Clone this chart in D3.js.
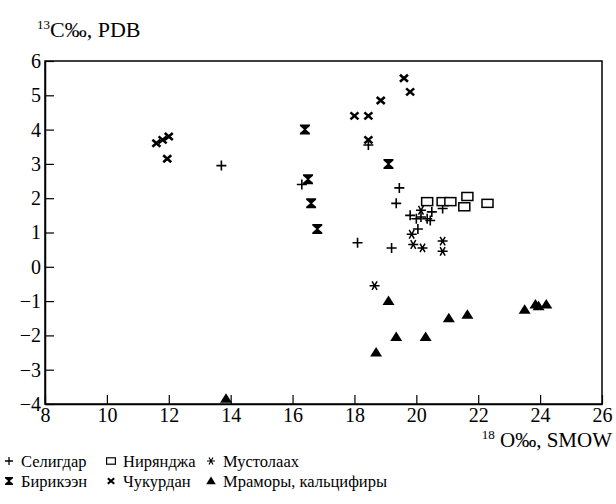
<!DOCTYPE html>
<html>
<head>
<meta charset="utf-8">
<script src="https://cdn.jsdelivr.net/npm/d3@7"></script>
<style>
  body { margin: 0; background: #fff; }
  svg text { font-family: "Liberation Serif", "Times New Roman", "Liberation Sans", Arial, sans-serif; fill: #000; }
</style>
</head>
<body>
<script>
var width = 616;
var height = 504;

// tick values
var xTicks = [8, 10, 12, 14, 16, 18, 20, 22, 24, 26];
var yTicks = [-4, -3, -2, -1, 0, 1, 2, 3, 4, 5, 6];

// series (d18O SMOW, d13C PDB)
var seligdarX = [13.7, 16.3, 18.45, 19.45, 19.35, 18.1, 19.2, 20.85, 19.8, 20.0, 20.15, 20.35, 20.5, 20.45, 20.05];
var seligdarY = [2.95, 2.4, 3.55, 2.3, 1.85, 0.7, 0.55, 1.7, 1.5, 1.4, 1.45, 1.4, 1.6, 1.35, 1.1];

var birikeenX = [16.4, 16.5, 16.6, 16.8, 19.1];
var birikeenY = [4.0, 2.55, 1.85, 1.1, 3.0];

var chukurdanX = [11.6, 11.8, 12.0, 11.95, 18.0, 18.45, 18.85, 19.6, 19.8, 18.45];
var chukurdanY = [3.6, 3.7, 3.8, 3.15, 4.4, 4.4, 4.85, 5.5, 5.1, 3.7];

var niryandzhaX = [20.35, 20.85, 21.1, 21.65, 21.55, 22.3];
var niryandzhaY = [1.9, 1.9, 1.9, 2.05, 1.75, 1.85];

var mustolaakhX = [20.15, 19.85, 19.9, 20.2, 20.85, 20.85, 18.65];
var mustolaakhY = [1.65, 0.95, 0.65, 0.55, 0.75, 0.45, -0.55];

var marblesX = [19.1, 19.35, 18.7, 20.3, 21.05, 21.65, 23.5, 23.85, 23.95, 24.2, 13.85];
var marblesY = [-1.0, -2.05, -2.5, -2.05, -1.5, -1.4, -1.25, -1.1, -1.15, -1.1, -3.85];

var svg = d3.select("body").append("svg")
    .attr("width", width)
    .attr("height", height);

var x = d3.scaleLinear().domain([8, 26]).range([45, 602]);
var y = d3.scaleLinear().domain([-4, 6]).range([404, 61]);

// marker shapes
function plus(g) {
    g.append("path").attr("d", "M-5,0H5M0,-5V5")
        .attr("stroke", "#000").attr("stroke-width", 1.6).attr("fill", "none");
}
function cross(g) {
    g.append("path").attr("d", "M-4,-3.5L4,3.5M-4,3.5L4,-3.5")
        .attr("stroke", "#000").attr("stroke-width", 2.6).attr("fill", "none");
}
function hourglass(g) {
    g.append("path").attr("d", "M-5,-5H5V-3.5L1,0L5,3.5V5H-5V3.5L-1,0L-5,-3.5Z")
        .attr("fill", "#000");
}
function square(g) {
    g.append("rect").attr("x", -5.5).attr("y", -4).attr("width", 11).attr("height", 8)
        .attr("stroke", "#000").attr("stroke-width", 1.5).attr("fill", "#fff");
}
function star(g) {
    g.append("path").attr("d", "M-5,0H5M-2.5,-4.3L2.5,4.3M-2.5,4.3L2.5,-4.3")
        .attr("stroke", "#000").attr("stroke-width", 1.5).attr("fill", "none");
}
function triangle(g) {
    g.append("path").attr("d", "M0,-5.5L6,4L-6,4Z").attr("fill", "#000");
}

function drawSeries(xs, ys, shape) {
    var pts = xs.map(function (v, i) { return [v, ys[i]]; });
    svg.append("g").selectAll("g")
        .data(pts)
        .enter().append("g")
        .attr("transform", function (d) { return "translate(" + x(d[0]) + "," + y(d[1]) + ")"; })
        .each(function () { shape(d3.select(this)); });
}

// frame
svg.append("rect")
    .attr("x", x(8)).attr("y", y(6))
    .attr("width", x(26) - x(8)).attr("height", y(-4) - y(6))
    .attr("fill", "none").attr("stroke", "#000").attr("stroke-width", 1.5);

// axes with inward ticks
var xAxis = svg.append("g")
    .attr("transform", "translate(0," + y(-4) + ")")
    .call(d3.axisBottom(x).tickValues(xTicks).tickSizeInner(-9).tickSizeOuter(0).tickPadding(14)
        .tickFormat(function (d) { return d; }));
var yAxis = svg.append("g")
    .attr("transform", "translate(" + x(8) + ",0)")
    .call(d3.axisLeft(y).tickValues(yTicks).tickSizeInner(-9).tickSizeOuter(0).tickPadding(14)
        .tickFormat(function (d) { return d < 0 ? "\u2212" + Math.abs(d) : d; }));

[xAxis, yAxis].forEach(function (a) {
    a.attr("font-family", null);
    a.select(".domain").attr("stroke", "#000").attr("stroke-width", 1.5);
    a.selectAll(".tick line").attr("stroke", "#000").attr("stroke-width", 1.2);
    a.selectAll(".tick text").style("font-size", "20px");
});
xAxis.selectAll(".tick text").attr("dy", "0.71em").attr("y", 4);
yAxis.selectAll(".tick text").attr("x", -4);

// titles
var t1 = svg.append("text").attr("x", 37).attr("y", 37).style("font-size", "22px");
t1.append("tspan").text("13").style("font-size", "13px").attr("dy", "-8");
t1.append("tspan").text("C\u2030, PDB").attr("dy", "8");

var t2 = svg.append("text").attr("x", 612).attr("y", 447).attr("text-anchor", "end").style("font-size", "21px");
t2.append("tspan").text("18").style("font-size", "13px").attr("dy", "-8");
t2.append("tspan").text(" O\u2030, SMOW").attr("dy", "8");

drawSeries(seligdarX, seligdarY, plus);
drawSeries(birikeenX, birikeenY, hourglass);
drawSeries(chukurdanX, chukurdanY, cross);
drawSeries(niryandzhaX, niryandzhaY, square);
drawSeries(mustolaakhX, mustolaakhY, star);
drawSeries(marblesX, marblesY, triangle);

// legend
var legendNames = ["Селигдар", "Нирянджа", "Мустолаах", "Бирикээн", "Чукурдан", "Мраморы, кальцифиры"];
var legendShapes = [plus, square, star, hourglass, cross, triangle];
var legendCol = [9, 111, 211];
var legendRow = [461, 481];

legendNames.forEach(function (name, i) {
    var cx = legendCol[i % 3], cy = legendRow[Math.floor(i / 3)];
    var g = svg.append("g").attr("transform", "translate(" + cx + "," + cy + ") scale(0.8)");
    legendShapes[i](g);
    svg.append("text").attr("x", cx + 12).attr("y", cy + 6).style("font-size", "16.5px").text(name);
});
</script>
</body>
</html>
